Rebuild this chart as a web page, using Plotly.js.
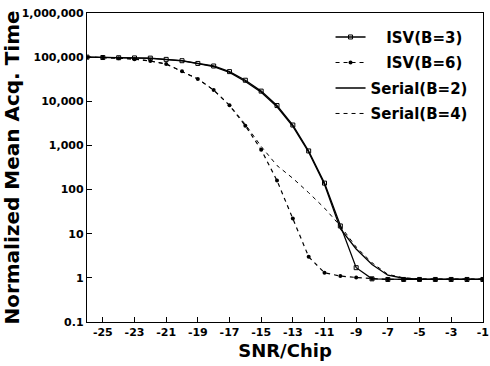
<!DOCTYPE html>
<html>
<head>
<meta charset="utf-8">
<script src="https://cdn.plot.ly/plotly-3.0.1.min.js"></script>
<style>html,body{margin:0;padding:0;background:#fff;}#chart{width:490px;height:366px;}</style>
</head>
<body>
<div id="chart"></div>
<script>
var snr = [-26,-25,-24,-23,-22,-21,-20,-19,-18,-17,-16,-15,-14,-13,-12,-11,-10,-9,-8,-7,-6,-5,-4,-3,-2,-1];
var isvB3 = [100000,98000,97000,96000,95000,89000,83000,72000,63000,47000,30000,17000,8000,2900,750,140,15,1.7,0.95,0.92,0.92,0.92,0.92,0.92,0.92,0.92];
var isvB6 = [100000,98000,95000,90000,82000,70000,48000,32000,18000,8100,2800,800,160,22,3.0,1.3,1.1,1.02,0.95,0.92,0.92,0.92,0.92,0.92,0.92,0.92];
var serialB2 = [100000,98000,97000,96000,94000,88000,82000,71000,61000,45000,28000,16000,7500,2700,700,130,13,4.5,2.0,1.15,0.98,0.94,0.93,0.93,0.93,0.93];
var serialB4 = [100000,98000,95000,90000,82000,70000,48000,32000,18000,8100,3000,950,350,180,85,38,15,5,2.2,1.2,1.0,0.95,0.94,0.94,0.94,0.94];
var seriesNames = ['\u00a0\u00a0\u00a0ISV(B=3)', '\u00a0\u00a0\u00a0ISV(B=6)', 'Serial(B=2)', 'Serial(B=4)'];
var yTickVals = [0.1,1,10,100,1000,10000,100000,1000000];
var yTickText = ['0.1','1','10','100','1,000','10,000','100,000','1,000,000'];
var xTickVals = [-25,-23,-21,-19,-17,-15,-13,-11,-9,-7,-5,-3,-1];
var xTickText = ['-25','-23','-21','-19','-17','-15','-13','-11','-9','-7','-5','-3','-1'];

var FAM = 'DejaVu Sans, Liberation Sans, Arial, sans-serif';
var traces = [
  {x: snr, y: isvB3, name: seriesNames[0], legendgroup: 'a', mode: 'lines+markers', line: {color: '#000', width: 1.3}, marker: {symbol: 'square-open', size: 4, color: '#000', line: {width: 1}}},
  {x: snr, y: isvB6, name: seriesNames[1], legendgroup: 'b', mode: 'lines+markers', line: {color: '#000', width: 1.2, dash: '4px,4px'}, marker: {symbol: 'circle', size: 4, color: '#000'}},
  {x: snr, y: serialB2, name: seriesNames[2], legendgroup: 'c', mode: 'lines', line: {color: '#000', width: 1.3}},
  {x: snr, y: serialB4, name: seriesNames[3], legendgroup: 'd', mode: 'lines', line: {color: '#000', width: 1, dash: '4px,4px'}}
];
var fnt = {family: FAM, size: 11, color: '#000', weight: 'bold'};
var layout = {
  width: 490, height: 366,
  margin: {l: 87, r: 7, t: 13, b: 44},
  paper_bgcolor: '#fff', plot_bgcolor: '#fff',
  showlegend: true,
  legend: {x: 0.615, y: 0.975, xanchor: 'left', yanchor: 'top', bgcolor: 'rgba(0,0,0,0)', font: {family: FAM, size: 15, color: '#000', weight: 'bold'}, tracegroupgap: 3, itemwidth: 30},
  xaxis: {
    range: [-26, -0.99], tickmode: 'array', tickvals: xTickVals, ticktext: xTickText,
    ticks: 'inside', ticklen: 5, tickcolor: '#000', showgrid: false, zeroline: false,
    showline: true, linecolor: '#000', linewidth: 1.2, mirror: true,
    tickfont: fnt, ticklabeloverflow: 'allow',
    title: {text: 'SNR/Chip', font: {family: FAM, size: 18, color: '#000', weight: 'bold'}, standoff: 6}
  },
  yaxis: {
    type: 'log', range: [-1, 6], tickmode: 'array', tickvals: yTickVals, ticktext: yTickText,
    ticks: 'inside', ticklen: 5, tickcolor: '#000', showgrid: false, zeroline: false,
    showline: true, linecolor: '#000', linewidth: 1.2, mirror: true,
    tickfont: fnt,
    title: {text: 'Normalized Mean Acq. Time', font: {family: FAM, size: 20, color: '#000', weight: 'bold'}, standoff: 0}
  }
};
Plotly.newPlot('chart', traces, layout, {displayModeBar: false, staticPlot: true});
</script>
</body>
</html>
